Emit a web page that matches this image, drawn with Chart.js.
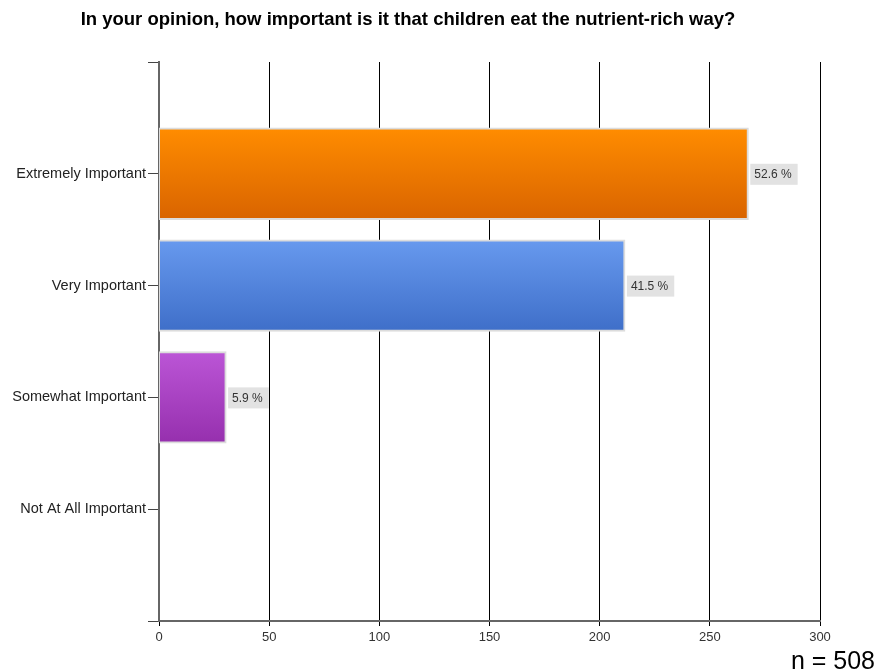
<!DOCTYPE html>
<html>
<head>
<meta charset="utf-8">
<script src="https://cdn.jsdelivr.net/npm/chart.js@4"></script>
<style>
  html, body { margin: 0; padding: 0; background: #fff; }
  #wrap { width: 877px; height: 672px; position: relative; }
</style>
</head>
<body>
<div id="wrap"><canvas id="chart" width="877" height="672"></canvas></div>
<script>
// blank first/last slots give the empty space above and below the bars
const categories = ['', 'Extremely Important', 'Very Important', 'Somewhat Important', 'Not At All Important', ''];
const counts = [null, 267, 211, 30, 0, null];
const percentLabels = [null, '52.6 %', '41.5 %', '5.9 %', null, null];
const xTickMin = 0;
const xTickMax = 300;
const xTickStep = 50;
const titleText = 'In your opinion, how important is it that children eat the nutrient-rich way?';
const sampleText = 'n = 508';

const topColors = ['#999999', '#ff8c00', '#6799ee', '#bb55d6', '#999999', '#999999'];
const bottomColors = ['#777777', '#d96400', '#3f6fc9', '#9630ae', '#777777', '#777777'];

const barFill = (ctx) => {
  const chart = ctx.chart;
  const i = ctx.dataIndex;
  if (i === undefined || !chart.chartArea || !chart.scales.y) return topColors[i] || '#999';
  const y = chart.scales.y.getPixelForValue(i);
  const g = chart.ctx.createLinearGradient(0, y - 45, 0, y + 45);
  g.addColorStop(0, topColors[i]);
  g.addColorStop(1, bottomColors[i]);
  return g;
};

const extras = {
  id: 'extras',
  afterDatasetsDraw(chart) {
    const c = chart.ctx;
    const meta = chart.getDatasetMeta(0);
    c.save();
    c.font = '12px "Liberation Sans", Arial, sans-serif';
    c.textBaseline = 'middle';
    meta.data.forEach((bar, i) => {
      const txt = percentLabels[i];
      if (!txt) return;
      const w = c.measureText(txt).width + 10;
      const x = bar.x + 3;
      const y = bar.y;
      c.fillStyle = '#e2e2e2';
      c.fillRect(x, y - 10, w, 21);
      c.fillStyle = '#333';
      c.textAlign = 'left';
      c.fillText(txt, x + 4, y + 1);
    });
    c.restore();
  },
  afterDraw(chart) {
    const c = chart.ctx;
    c.save();
    c.fillStyle = '#000';
    c.textAlign = 'center';
    c.textBaseline = 'middle';
    c.font = 'bold 18.5px "Liberation Sans", Arial, sans-serif';
    c.fillText(titleText, 408, 20);
    c.font = '25px "Liberation Sans", Arial, sans-serif';
    c.textAlign = 'right';
    c.textBaseline = 'alphabetic';
    c.fillText(sampleText, 875, 669);
    c.restore();
  }
};

new Chart(document.getElementById('chart'), {
  type: 'bar',
  data: {
    labels: categories,
    datasets: [{
      data: counts,
      backgroundColor: barFill,
      borderColor: '#dcdcdc',
      borderWidth: 2,
      borderSkipped: false,
      inflateAmount: 1.5,
      barPercentage: 0.8,
      categoryPercentage: 1.0
    }]
  },
  options: {
    indexAxis: 'y',
    responsive: false,
    animation: false,
    maintainAspectRatio: false,
    layout: { padding: { top: 62, right: 57, left: 0, bottom: 0 } },
    plugins: { legend: { display: false }, tooltip: { enabled: false } },
    scales: {
      y: {
        offset: false,
        afterFit: (s) => { s.width = 159; },
        grid: {
          offset: false,
          drawOnChartArea: false,
          drawTicks: true,
          tickLength: 11,
          tickColor: '#444',
          tickWidth: 1
        },
        border: { color: '#666', width: 2 },
        ticks: {
          color: '#222',
          padding: 2,
          font: { family: '"Liberation Sans", Arial, sans-serif', size: 14.5 }
        }
      },
      x: {
        min: xTickMin,
        max: xTickMax,
        afterFit: (s) => { s.height = 51; },
        grid: {
          color: (ctx) => ctx.index === 0 ? 'rgba(0,0,0,0)' : '#000',
          tickColor: '#000',
          tickLength: 5,
          lineWidth: 1
        },
        border: { color: '#666', width: 2 },
        ticks: {
          stepSize: xTickStep,
          color: '#333',
          padding: 4,
          font: { family: '"Liberation Sans", Arial, sans-serif', size: 13 }
        }
      }
    }
  },
  plugins: [extras]
});
</script>
</body>
</html>
